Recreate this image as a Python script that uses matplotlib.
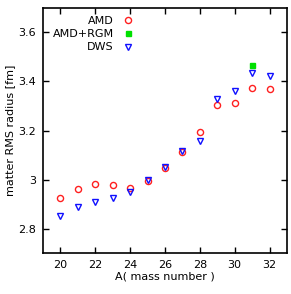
import matplotlib

matplotlib.use("Agg")
import matplotlib.pyplot as plt

# mass number and matter RMS radius [fm]
mass = [20, 21, 22, 23, 24, 25, 26, 27, 28, 29, 30, 31, 32]
amd = [2.925, 2.960, 2.982, 2.976, 2.967, 2.995, 3.047, 3.114, 3.192, 3.306, 3.314, 3.373, 3.369]
dws = [2.853, 2.887, 2.909, 2.925, 2.948, 2.997, 3.050, 3.115, 3.159, 3.327, 3.360, 3.434, 3.424]
rgm_mass = [31]
rgm = [3.469]

plt.rcParams.update({"font.family": "DejaVu Sans", "font.size": 8})

fig = plt.figure(figsize=(2.91, 2.94), dpi=100)
ax = fig.add_axes([0.148, 0.139, 0.838, 0.834])

ax.plot(mass, amd, "o", mfc="none", mec="#ff2020", mew=1.0, ms=4.4, label="AMD", zorder=3)
ax.plot(rgm_mass, rgm, "s", mfc="#00e000", mec="#00e000", ms=3.6, label="AMD+RGM", zorder=4)
ax.plot(mass, dws, "v", mfc="none", mec="#1010ff", mew=1.0, ms=4.4, label="DWS", zorder=3)

ax.set_xlim(19, 33)
ax.set_ylim(2.7, 3.7)
ax.set_xticks([20, 22, 24, 26, 28, 30, 32])
ax.set_yticks([2.8, 3.0, 3.2, 3.4, 3.6])
ax.set_yticklabels(["2.8", "3", "3.2", "3.4", "3.6"])
ax.tick_params(direction="in", top=True, right=True, length=4, width=1.0, pad=5)
for s in ax.spines.values():
    s.set_linewidth(1.2)

ax.set_xlabel("A( mass number )", labelpad=1)
ax.set_ylabel("matter RMS radius [fm]", labelpad=2)

ax.legend(loc="upper right", bbox_to_anchor=(0.40, 0.995), markerfirst=False, frameon=False,
          handlelength=1.0, handletextpad=0.8, labelspacing=0.3, borderaxespad=0.2)

fig.savefig("out.png", dpi=100)
